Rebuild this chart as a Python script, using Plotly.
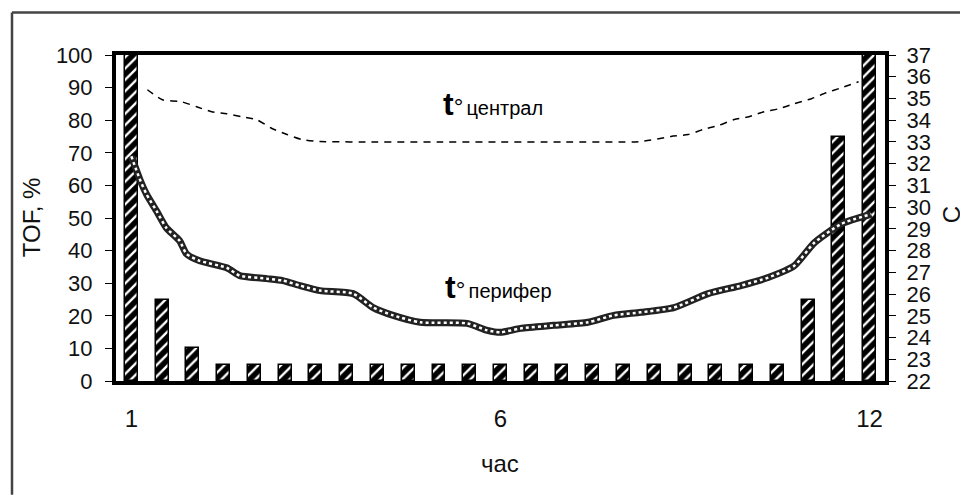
import plotly.graph_objects as go

# ---- data ----
categories = list(range(25))
tick_vals = [0, 12, 24]
tick_text = ["1", "6", "12"]
tof = [100, 25, 10, 5, 5, 5, 5, 5, 5, 5, 5, 5, 5, 5, 5, 5, 5, 5, 5, 5, 5, 5, 25, 75, 100]

central_x = [0.52, 1.01, 1.63, 2.12, 2.61, 3.10, 3.59, 4.08, 4.57, 5.06, 5.54, 6.13,
             8.0, 10.0, 12.0, 14.0, 16.56, 17.54, 18.10, 18.58, 19.07, 19.60, 20.08,
             20.57, 21.06, 21.55, 22.11, 22.59, 23.08, 23.64]
central_t = [35.40, 34.94, 34.85, 34.62, 34.39, 34.30, 34.16, 34.02, 33.62, 33.34, 33.11, 33.02,
             33.0, 33.0, 33.0, 33.0, 33.02, 33.25, 33.34, 33.57, 33.75, 34.03, 34.16,
             34.39, 34.53, 34.76, 34.99, 35.26, 35.49, 35.77]

periph_x = [0.0, 0.26, 0.49, 0.82, 1.14, 1.57, 1.79, 2.22, 3.10, 3.52, 4.40, 4.92, 5.48, 6.13,
            7.21, 7.86, 8.51, 9.39, 10.92, 11.57, 12.0, 12.65, 13.73, 14.84, 15.68, 16.56,
            17.64, 18.75, 19.82, 20.70, 21.55, 22.20, 23.08, 24.06]
periph_t = [32.34, 31.33, 30.60, 29.82, 29.04, 28.45, 27.85, 27.53, 27.21, 26.85, 26.71, 26.62,
            26.39, 26.16, 26.02, 25.38, 25.02, 24.70, 24.65, 24.33, 24.24, 24.42, 24.56, 24.70,
            25.02, 25.16, 25.38, 26.02, 26.39, 26.76, 27.30, 28.36, 29.23, 29.68]

FONT = "Liberation Sans, Arial, sans-serif"

fig = go.Figure()
fig.add_trace(go.Bar(
    x=categories, y=tof, width=0.42,
    marker=dict(color="black", line=dict(color="black", width=1.5),
                pattern=dict(shape="/", fgcolor="white", bgcolor="black",
                             size=8, solidity=0.3, fillmode="replace")),
    yaxis="y", showlegend=False))

fig.add_trace(go.Scatter(
    x=central_x, y=central_t, mode="lines", yaxis="y2",
    line=dict(color="black", width=1.5, dash="7px,6px", shape="spline", smoothing=0.6),
    showlegend=False))
fig.add_trace(go.Scatter(
    x=periph_x, y=periph_t, mode="lines", yaxis="y2",
    line=dict(color="#222222", width=7, shape="spline", smoothing=0.6),
    showlegend=False))
fig.add_trace(go.Scatter(
    x=periph_x, y=periph_t, mode="lines", yaxis="y2",
    line=dict(color="white", width=2.5, dash="3px,3px", shape="spline", smoothing=0.6),
    showlegend=False))

# page places the figure 8px in from the top-left (default body margin)
OFF = 8
W, H = 968 - OFF, 495 - OFF
L, R, T, B = 116 - OFF, 885 - OFF, 54.5 - OFF, 381 - OFF


def px(x):
    return (x - OFF - L) / (R - L)


def py(y):
    return (B - (y - OFF)) / (B - T)


fig.update_layout(
    width=W, height=H,
    margin=dict(l=L, r=W - R, t=T, b=H - B, pad=0, autoexpand=False),
    paper_bgcolor="white", plot_bgcolor="white",
    font=dict(family=FONT, color="#111111"),
    bargap=0,
    xaxis=dict(range=[-0.5, 24.5], tickvals=tick_vals, ticktext=tick_text, automargin=False,
               showline=True, linewidth=4, linecolor="black", mirror=True,
               showgrid=False, zeroline=False, ticks="", ticklabelstandoff=13,
               tickfont=dict(size=24, family=FONT)),
    yaxis=dict(range=[0, 100], dtick=10, showline=True, linewidth=4, linecolor="black",
               mirror=True, showgrid=False, zeroline=False, automargin=False,
               ticks="outside", ticklen=7, tickwidth=1, tickcolor="black",
               ticklabelstandoff=8, tickfont=dict(size=22, family=FONT)),
    yaxis2=dict(range=[22, 37], dtick=1, overlaying="y", side="right", automargin=False,
                showline=True, linewidth=4, linecolor="black", showgrid=False,
                zeroline=False, ticks="outside", ticklen=7, tickwidth=1, tickcolor="black",
                ticklabelstandoff=6, tickfont=dict(size=22, family=FONT)),
    shapes=[
        dict(type="line", xref="paper", yref="paper", x0=px(12), x1=px(968), y0=py(12), y1=py(12),
             line=dict(color="#444444", width=2.5)),
        dict(type="line", xref="paper", yref="paper", x0=px(12), x1=px(12), y0=py(12), y1=py(495),
             line=dict(color="#444444", width=2.5)),
    ],
    annotations=[
        dict(text="TOF, %", xref="paper", yref="paper", x=px(31), y=py(217), textangle=-90,
             showarrow=False, font=dict(size=24, family=FONT), xanchor="center", yanchor="middle"),
        dict(text="C", xref="paper", yref="paper", x=px(951), y=py(215), textangle=-90,
             showarrow=False, font=dict(size=24, family=FONT), xanchor="center", yanchor="middle"),
        dict(text="час", xref="paper", yref="paper", x=px(500), y=py(464),
             showarrow=False, font=dict(size=24, family=FONT), xanchor="center", yanchor="middle"),
        dict(text="<span style='font-size:32px'><b>t</b></span><span style='font-size:24px'>°</span>"
                  " <span style='font-size:20px'>централ</span>",
             xref="paper", yref="paper", x=px(441), y=py(104), showarrow=False,
             font=dict(family=FONT, color="black"), xanchor="left", yanchor="middle"),
        dict(text="<span style='font-size:32px'><b>t</b></span><span style='font-size:24px'>°</span>"
                  " <span style='font-size:20px'>перифер</span>",
             xref="paper", yref="paper", x=px(443), y=py(287), showarrow=False,
             font=dict(family=FONT, color="black"), xanchor="left", yanchor="middle"),
    ],
)

fig.write_html("out.html")
